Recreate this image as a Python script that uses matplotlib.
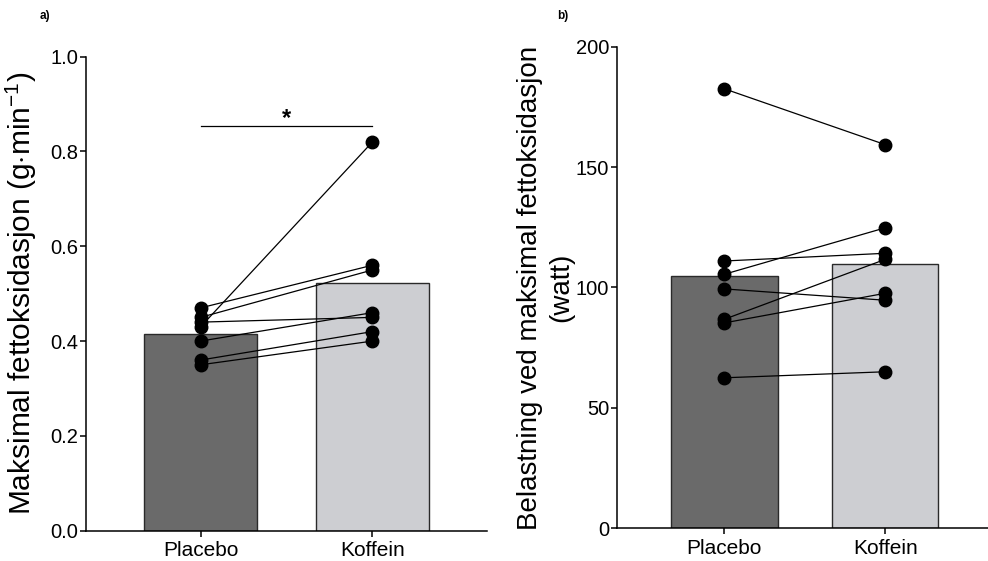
import numpy as np
import matplotlib
matplotlib.use('Agg')
import matplotlib.pyplot as plt

plt.rcParams['font.family'] = ['Liberation Sans', 'DejaVu Sans']
plt.rcParams['mathtext.fontset'] = 'custom'
plt.rcParams['mathtext.rm'] = 'Liberation Sans'
plt.rcParams['mathtext.it'] = 'Liberation Sans:italic'
plt.rcParams['mathtext.bf'] = 'Liberation Sans:bold'

# conditions
groups = ['Placebo', 'Koffein']

# max fat oxidation per subject (g/min), placebo -> koffein
mfo_placebo = [0.47, 0.45, 0.43, 0.44, 0.40, 0.36, 0.35]
mfo_koffein = [0.56, 0.55, 0.82, 0.45, 0.46, 0.42, 0.40]

# workload at max fat oxidation per subject (watt)
watt_placebo = [182.5, 111.0, 105.5, 99.4, 86.8, 85.3, 62.5]
watt_koffein = [159.3, 114.2, 124.8, 94.7, 111.7, 97.6, 65.0]

bar_colors = ['#6a6a6a', '#cdced2']


def paired_panel(ax, before, after, ylim, yticks, yticklabels):
    x = np.arange(len(groups))
    means = [np.mean(before), np.mean(after)]
    ax.bar(x, means, width=0.66, color=bar_colors, edgecolor='#2a2a2a',
           linewidth=1.0, zorder=1)
    for b, a in zip(before, after):
        ax.plot(x, [b, a], '-', color='black', linewidth=0.9, zorder=2)
        ax.plot(x, [b, a], 'o', color='black', markersize=9, zorder=3)
    ax.set_xlim(-0.667, 1.667)
    ax.set_ylim(*ylim)
    ax.set_yticks(yticks)
    ax.set_yticklabels(yticklabels)
    ax.set_xticks(x)
    ax.set_xticklabels(groups, fontsize=15)
    ax.spines['top'].set_visible(False)
    ax.spines['right'].set_visible(False)
    ax.spines['left'].set_linewidth(1.1)
    ax.spines['bottom'].set_linewidth(1.1)
    ax.tick_params(axis='y', labelsize=14.5, length=4.5, width=1.1, pad=1)
    ax.tick_params(axis='x', length=4.5, width=1.1, pad=3)
    for s in ax.spines.values():
        s.set_clip_on(False)


fig = plt.figure(figsize=(9.88, 5.61), dpi=100)

# a) max fat oxidation
ax1 = fig.add_axes([0.0870, 0.054, 0.4059, 0.845])
paired_panel(ax1, mfo_placebo, mfo_koffein, (0, 1.0),
             [0, 0.2, 0.4, 0.6, 0.8, 1.0],
             ['0.0', '0.2', '0.4', '0.6', '0.8', '1.0'])
ax1.set_ylabel('Maksimal fettoksidasjon (g$\\cdot$min$^{-1}$)', fontsize=21.5,
               labelpad=8)
ax1.plot([0, 1], [0.854, 0.854], color='black', linewidth=0.9)
ax1.text(0.5, 0.846, '*', ha='center', va='bottom', fontsize=17,
         fontweight='bold')
fig.text(40 / 988, 1 - 16 / 561, 'a)', fontsize=8.5, fontweight='bold',
         ha='left', va='center')

# b) workload at max fat oxidation
ax2 = fig.add_axes([0.6245, 0.0583, 0.3803, 0.8585])
paired_panel(ax2, watt_placebo, watt_koffein, (0, 200),
             [0, 50, 100, 150, 200], ['0', '50', '100', '150', '200'])
ax2.set_ylabel('Belastning ved maksimal fettoksidasjon\n(watt)', fontsize=20,
               labelpad=1, linespacing=1.3)
fig.text(557 / 988, 1 - 16 / 561, 'b)', fontsize=8.5, fontweight='bold',
         ha='left', va='center')

fig.savefig('out.png', dpi=100)
